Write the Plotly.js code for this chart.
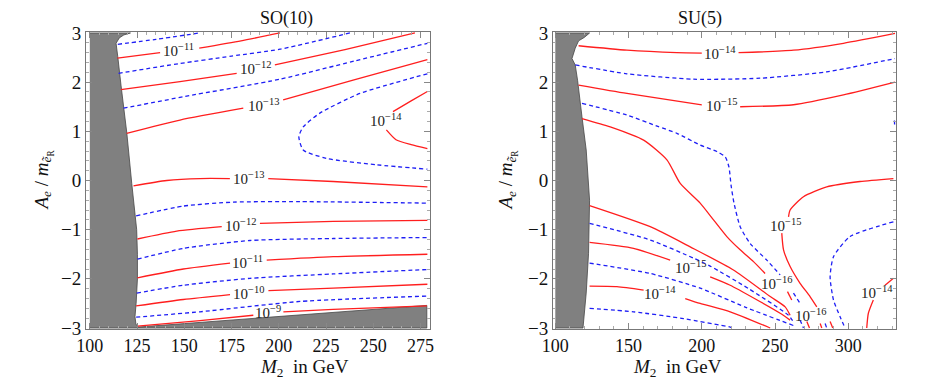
<!DOCTYPE html>
<html>
<head>
<meta charset="utf-8">
<script src="https://cdn.plot.ly/plotly-3.0.1.min.js"></script>
<style>
body { margin: 0; background: #fff; }
#myGraph { width: 927px; height: 381px; }
</style>
</head>
<body>
<div id="myGraph"></div>
<script>
"use strict";

// excluded regions (grey), [M2, A/m] pairs
var greySO = [[100,3],[121.5,3],[118,2.96],[115.6,2.9],[113.9,2.79],[114.2,2.65],[114.8,2.52],[116.5,1.94],
	      [119.6,0.96],[122.2,-0.06],[124.8,-1.0],[125.2,-1.5],[125.2,-2.0],[124.5,-2.5],[123.9,-2.77],
	      [124.4,-2.92],[125.7,-2.98],[278.3,-2.54],[278.3,-3],[100,-3]];
var greySU = [[100,3],[123.4,3],[119.8,2.91],[115.9,2.84],[113.6,2.69],[111.4,2.48],[113.6,2.35],[115.2,2.04],
	      [118.2,1.3],[121.1,0.62],[123.4,-0.4],[122.7,-1.48],[121.1,-2.29],[118.9,-3],[100,-3]];

// SO(10) contours (null = gap for label)
var so_b1   = [[114.8,2.77],[135,2.87],[158,3.0]];
var so_r11a = [[114.6,2.49],[137.2,2.6],null,[157.9,2.69],[180,2.84],[200.6,3.0]];
var so_b2   = [[115.2,2.18],[147.7,2.38],[175,2.53],[200.6,2.67],[237.6,3.0]];
var so_r12a = [[116.4,1.85],[147.7,2.01],[177.7,2.18],null,[197.9,2.35],[235,2.66],[272,3.0]];
var so_b3   = [[117.8,1.47],[150.4,1.71],[200.6,2.06],[240,2.43],[278.6,2.79]];
var so_r13a = [[119.5,0.96],[147.7,1.23],[181.2,1.47],null,[202.3,1.64],[239.3,2.04],[278.6,2.46]];
var so_b4   = [[278.6,2.17],[242.9,1.77],[221.7,1.37],[212.9,1.09],[210.6,0.89],[212.9,0.62],[225.2,0.45],[251.6,0.32],[278.6,0.23]];
var so_r14  = [[278.6,1.81],[270,1.62],[260.4,1.40],null,[256.9,1.03],[262,0.83],[270,0.73],[278.6,0.65]];
var so_r13b = [[123.1,-0.11],[140.7,0.0],[158.3,0.04],[174.1,0.04],null,[194.4,0.04],[228.7,-0.02],[278.6,-0.13]];
var so_b5   = [[124.5,-0.72],[149.5,-0.52],[175.9,-0.44],[211.2,-0.43],[278.6,-0.46]];
var so_r12b = [[125.2,-1.19],[146,-1.03],[169.8,-0.94],null,[190,-0.87],[228.8,-0.83],[278.6,-0.81]];
var so_b6   = [[125.2,-1.6],[149.5,-1.38],[184.7,-1.22],[228.8,-1.18],[278.6,-1.16]];
var so_r11b = [[125.2,-1.98],[149.5,-1.8],[174.2,-1.68],null,[193.6,-1.62],[228.8,-1.55],[278.6,-1.5]];
var so_b7   = [[124.8,-2.29],[149.5,-2.13],[184.7,-1.99],[228.8,-1.9],[278.6,-1.81]];
var so_r10  = [[124.5,-2.55],[149.5,-2.42],[174.2,-2.32],null,[194.5,-2.24],[228.8,-2.19],[278.6,-2.11]];
var so_b8   = [[124.5,-2.78],[158.3,-2.67],[211.2,-2.46],[278.6,-2.35]];
var so_r9   = [[125.2,-2.96],[158.3,-2.85],[186.5,-2.74],null,[202.4,-2.67],[228.8,-2.62],[278.3,-2.55]];

// SU(5) contours
var su_r14a = [[115.9,2.74],[148.9,2.65],[183,2.6],[200,2.59],null,[225.1,2.6],[262.6,2.65],[296.7,2.79],[331.9,2.99]];
var su_b1   = [[113.6,2.35],[148.9,2.17],[194.4,2.06],[239.8,2.08],[285.3,2.21],[331.9,2.48]];
var su_r15a = [[115.9,1.94],[148.9,1.77],[200,1.54],null,[226.2,1.5],[262.6,1.54],[296.7,1.74],[331.9,2.0]];
var su_b2   = [[118.2,1.57],[148.9,1.33],[170,1.1],[183,0.96],[198.9,0.72],[210.3,0.59],[216,0.48],[218.5,0.28],
	       [220,-0.1],[222,-0.46],[226.2,-0.94],[233,-1.28],[244.4,-1.62],[253.5,-1.92]];
var su_r1   = [[118.2,1.26],[137.5,1.09],[160.3,0.82],[176.2,0.42],[185.3,-0.06],[198.9,-0.46],[208,-0.8],
	       [217.1,-1.14],[226.2,-1.41],[235.3,-1.65],[243.2,-1.89]];
var su_r2   = [[123.4,-0.51],[164.8,-0.94],[192.1,-1.35],[221.6,-1.82],[246.7,-2.36],[256.9,-2.57],[260.3,-2.74]];
var su_b3   = [[123.4,-0.87],[164.8,-1.21],[194.4,-1.58],[205.7,-1.74],[232,-2.2],[259.2,-2.74],[262,-2.85]];
var su_r15b = [[123.4,-1.26],[153.4,-1.38],[178.4,-1.62],null,[205.7,-1.96],[219.4,-2.13],[253.5,-2.7],[260.3,-2.84]];
var su_b4   = [[123.4,-1.68],[164.8,-1.89],[198.9,-2.19],[230,-2.58],[262.6,-2.95]];
var su_r14b = [[123.4,-2.15],[142.1,-2.16],[160.3,-2.23],null,[188.7,-2.4],[198.9,-2.5],[219.4,-2.67],[246.7,-3.0]];
var su_b5   = [[123.4,-2.6],[153.4,-2.67],[187.5,-2.81],[219.4,-2.98],[222,-3.0]];
var su_r15c = [[330.8,0.04],[308,-0.02],[285.3,-0.13],[269.4,-0.33],[260.3,-0.6],[259.2,-0.74],null,
	       [254.6,-1.07],[255.8,-1.41],[260.3,-1.75],[267.1,-2.09],[273.9,-2.36],[278.5,-2.57]];
var su_b6   = [[330.8,-0.84],[301.2,-1.14],[289.9,-1.55],[287.6,-1.96],[289.9,-2.43],[294.4,-2.77],[297.8,-3.0]];
var su_r14c = [[330.8,-1.99],[325.1,-2.13],null,[317.1,-2.43],[313.7,-2.7],[312.6,-3.0]];
var su_r16a = [[258.5,-2.26],[261.4,-2.43]];
var su_b7   = [[262.6,-2.29],[267.1,-2.5]];
var su_b8   = [[267.1,-2.84],[269.4,-3.0]];
var su_r16b = [[271.7,-2.87],[273.5,-3.0]];
var su_r16c = [[280.8,-2.91],[281.9,-3.0]];
var su_b9   = [[284.2,-2.91],[285.3,-3.0]];
var su_r16d = [[287.6,-2.87],[289.4,-3.0]];
var su_b10  = [[331.5,1.22],[331.7,1.1]];

// contour labels [M2, A/m, exponent]
var soLabels = [[146.9,2.65,'−11'],[187.4,2.28,'−12'],[191.8,1.54,'−13'],[256.6,1.23,'−14'],[184.2,0.06,'−13'],
		[179.8,-0.91,'−12'],[183.4,-1.65,'−11'],[183.9,-2.28,'−10'],[194.4,-2.68,'−9']];
var suLabels = [[212.5,2.6,'−14'],[213.2,1.54,'−15'],[256.9,-0.91,'−15'],[192.1,-1.75,'−15'],[171.6,-2.29,'−14'],
		[250.7,-2.09,'−16'],[273.9,-2.74,'−16'],[319.4,-2.26,'−14']];

var soRed  = [so_r11a,so_r12a,so_r13a,so_r14,so_r13b,so_r12b,so_r11b,so_r10,so_r9];
var soBlue = [so_b1,so_b2,so_b3,so_b4,so_b5,so_b6,so_b7,so_b8];
var suRed  = [su_r14a,su_r15a,su_r1,su_r2,su_r15b,su_r14b,su_r15c,su_r14c,su_r16a,su_r16b,su_r16c,su_r16d];
var suBlue = [su_b1,su_b2,su_b3,su_b4,su_b5,su_b6,su_b7,su_b8,su_b9,su_b10];

var serif = '"Liberation Serif", "Times New Roman", Times, serif';
var red = 'rgb(255,30,30)';
var blue = 'rgb(30,30,245)';

// pairs -> trace
function lineTrace(pts, color, dash, xa, ya) {
    var x = [], y = [];
    for (var i = 0; i < pts.length; i++) {
	if (pts[i] === null) { x.push(null); y.push(null); }
	else { x.push(pts[i][0]); y.push(pts[i][1]); }
    }
    return {x: x, y: y, xaxis: xa, yaxis: ya, mode: 'lines', hoverinfo: 'skip',
	    line: {color: color, width: 1.3, dash: dash, shape: 'spline', smoothing: 0.6}};
}

function greyTrace(pts, xa, ya) {
    return {x: pts.map(function(p){return p[0];}), y: pts.map(function(p){return p[1];}),
	    xaxis: xa, yaxis: ya, mode: 'lines', fill: 'toself', fillcolor: 'rgb(128,128,128)',
	    line: {color: 'rgb(70,70,70)', width: 0.8}, hoverinfo: 'skip'};
}

var data = [greyTrace(greySO,'x','y'), greyTrace(greySU,'x2','y2')];
soBlue.forEach(function(l){ data.push(lineTrace(l, blue, '4px,3px', 'x', 'y')); });
soRed.forEach(function(l){ data.push(lineTrace(l, red, 'solid', 'x', 'y')); });
suBlue.forEach(function(l){ data.push(lineTrace(l, blue, '4px,3px', 'x2', 'y2')); });
suRed.forEach(function(l){ data.push(lineTrace(l, red, 'solid', 'x2', 'y2')); });

var annotations = [];
function addLabels(list, xr, yr) {
    list.forEach(function(l) {
	annotations.push({x: l[0], y: l[1], xref: xr, yref: yr, showarrow: false,
			  text: '10<sup>' + l[2] + '</sup>', font: {family: serif, size: 15, color: '#222'}});
    });
}
addLabels(soLabels, 'x', 'y');
addLabels(suLabels, 'x2', 'y2');

// titles
var dL = [0.0928, 0.4639];
var dR = [0.5965, 0.9666];
var ytitle = '<i>A<sub>e</sub></i> / <i>m</i><sub><i>ẽ</i><sub>R</sub></sub>';
var xtitle = '<i>M</i><sub>2</sub>  in GeV';
[[dL,'SO(10)',0.0464],[dR,'SU(5)',0.547]].forEach(function(p) {
    var cx = (p[0][0]+p[0][1])/2;
    annotations.push({x: cx, y: 1.047, xref: 'paper', yref: 'paper', showarrow: false, yanchor: 'middle',
		      text: p[1], font: {family: serif, size: 18, color: '#111'}});
    annotations.push({x: cx, y: 0, xref: 'paper', yref: 'paper', showarrow: false, yanchor: 'top',
		      yshift: -25, text: xtitle, font: {family: serif, size: 19, color: '#111'}});
    annotations.push({x: p[2], y: 0.5, xref: 'paper', yref: 'paper', showarrow: false, textangle: -90,
		      xanchor: 'center', yanchor: 'middle',
		      text: ytitle, font: {family: serif, size: 19, color: '#111'}});
});

function xAxis(domain, range, dtick, minor, anchor) {
    return {domain: domain, range: range, tick0: 100, dtick: dtick, anchor: anchor,
	    ticks: 'inside', ticklen: 6, tickcolor: '#888', tickwidth: 1,
	    minor: {ticks: 'inside', ticklen: 3, dtick: minor, tick0: 100, tickcolor: '#aaa'},
	    showline: true, linecolor: '#777', linewidth: 1, mirror: 'allticks',
	    showgrid: false, zeroline: false, tickfont: {family: serif, size: 18, color: '#111'}};
}
function yAxis(anchor) {
    return {domain: [0, 1], range: [-3.02, 3.02], tick0: 0, dtick: 1, anchor: anchor,
	    ticks: 'inside', ticklen: 6, tickcolor: '#888', tickwidth: 1,
	    minor: {ticks: 'inside', ticklen: 3, dtick: 0.2, tickcolor: '#aaa'},
	    showline: true, linecolor: '#777', linewidth: 1, mirror: 'allticks',
	    showgrid: false, zeroline: false, tickfont: {family: serif, size: 19, color: '#111'}};
}

var layout = {
    width: 927, height: 381,
    margin: {l: 0, r: 0, t: 32, b: 52},
    paper_bgcolor: '#fff', plot_bgcolor: '#fff',
    showlegend: false,
    xaxis: xAxis(dL, [98, 280], 25, 5, 'y'),
    yaxis: yAxis('x'),
    xaxis2: xAxis(dR, [98.4, 332.6], 50, 10, 'y2'),
    yaxis2: yAxis('x2'),
    annotations: annotations
};

Plotly.newPlot('myGraph', data, layout, {staticPlot: true});
</script>
</body>
</html>
